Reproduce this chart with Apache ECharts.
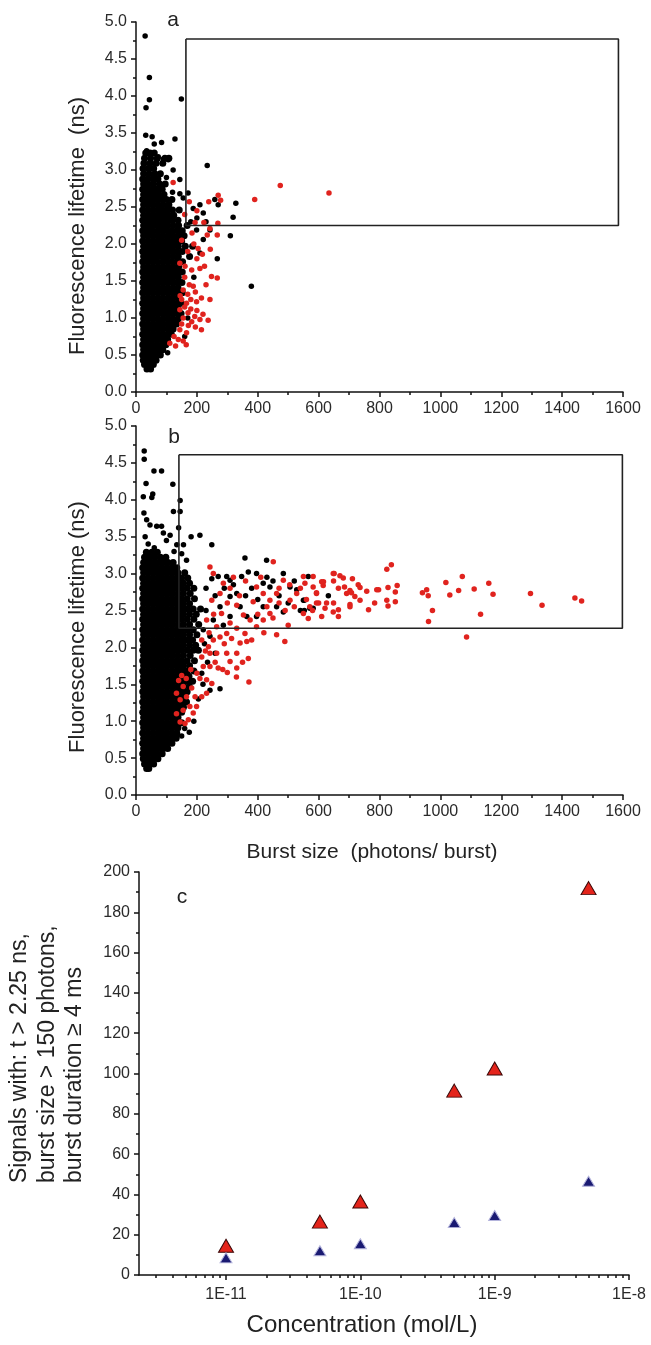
<!DOCTYPE html>
<html>
<head>
<meta charset="utf-8">
<script src="https://cdn.jsdelivr.net/npm/echarts@6/dist/echarts.min.js"></script>
<style>
html,body{margin:0;padding:0;background:#fff;}
#chart{width:651px;height:1345px;}
</style>
</head>
<body>
<div id="chart"></div>
<script>
// ---------------- DATA ----------------
// Panel a: dense black cloud, rows of [lifetime, burst sizes...]
const cloudA = [
[0.31,36,48],
[0.37,28,42,57],
[0.43,24,38,52,66],
[0.50,22,36,50,65,80],
[0.57,25,40,55,71,88],
[0.64,22,37,53,69,85,98],
[0.71,25,41,58,74,90,104],
[0.78,22,38,54,70,86,103,116],
[0.85,25,41,57,73,89,106,122],
[0.92,22,38,54,70,86,103,119,133],
[0.99,25,41,57,73,90,106,122,139],
[1.06,22,38,54,70,87,103,119,136,148],
[1.13,25,41,57,74,90,106,122,138],
[1.20,22,38,54,70,86,102,119,135,149],
[1.27,25,41,57,73,89,106,122,139],
[1.34,22,38,54,71,87,103,119,135,152],
[1.41,25,41,57,73,89,105,122,138],
[1.48,22,38,54,70,86,103,119,135,151],
[1.55,25,41,57,73,90,106,122,139],
[1.62,22,38,54,70,86,102,118,135,152],
[1.69,25,41,57,74,90,106,123,140],
[1.76,22,38,54,70,87,103,119,136,153],
[1.83,25,41,57,73,89,105,122,139,176],
[1.90,22,38,54,70,86,103,119,135,152],
[1.97,25,41,57,73,90,106,122,139,162,186],
[2.04,22,38,54,70,86,102,119,135,150],
[2.11,25,41,57,73,89,106,122,139,158],
[2.18,22,38,54,71,87,103,119,136,152],
[2.25,25,41,57,73,89,105,122,140,168],
[2.32,22,38,54,70,86,103,119,138],
[2.39,25,41,57,73,90,106,124],
[2.46,22,38,54,70,86,102,120,142],
[2.53,25,41,57,73,89,108],
[2.60,22,38,54,70,87,100,118],
[2.67,25,41,57,74,92],
[2.74,22,38,54,70,86],
[2.81,25,41,58,78,96],
[2.88,22,38,56,72],
[2.95,25,43,62,80],
[3.02,23,40,58],
[3.09,26,46,66,88],
[3.16,28,48,70,95,108],
[3.23,32,46,60]
];
const blackA = [[30,4.81],[44,4.25],[44,3.95],[33,3.84],[149,3.96],[32,3.47],[53,3.45],[84,3.37],[128,3.42],[35,3.26],[46,3.23],[73,3.18],[90,3.15],[106,3.14],[234,3.06],[144,2.87],[122,3.00],[171,2.69],[155,2.62],[144,2.68],[188,2.48],[221,2.42],[210,2.53],[259,2.60],[270,2.53],[328,2.55],[319,2.36],[310,2.11],[379,1.43],[243,2.19],[267,1.80],[199,2.19],[221,2.06],[210,1.88],[200,2.35],[180,2.30],[230,2.30],[190,1.55],[170,1.00],[160,0.75],[104,0.53],[120,2.70],[100,2.90],[60,3.35]];
const redA = [[122,2.83],[270,2.66],[278,2.59],[239,2.57],[175,2.57],[194,2.29],[223,2.29],[269,2.28],[243,2.21],[234,2.12],[184,2.15],[267,2.12],[204,1.94],[244,1.93],[218,1.86],[144,1.74],[161,1.70],[183,1.65],[210,1.67],[248,1.56],[267,1.54],[155,1.38],[188,1.43],[150,1.25],[166,1.20],[199,1.22],[215,1.27],[243,1.25],[144,1.11],[171,1.07],[193,1.02],[210,0.98],[237,0.97],[155,1.00],[183,0.95],[144,0.84],[166,0.80],[139,0.71],[155,0.69],[111,0.66],[215,0.84],[390,2.60],[474,2.79],[634,2.69],[160,1.55],[175,1.45],[145,1.30],[170,1.32],[195,1.35],[160,1.15],[180,1.12],[200,1.10],[150,0.92],[172,0.90],[195,0.88],[125,0.75],[200,1.80],[190,2.00],[170,1.90],[225,1.70],[160,2.40],[200,2.45],[150,2.05],[230,1.45],[180,1.25],[130,0.62],[220,1.05],[165,0.64]];
const gateA = [164, 1585, 2.25, 4.77]; // xMin, xMax, yMin, yMax

// Panel b
const cloudB = [
[0.36,35,42],
[0.42,28,44,58],
[0.49,24,40,56,72],
[0.56,22,38,54,70,86],
[0.63,25,41,57,73,89,104],
[0.70,22,38,54,70,86,102,118],
[0.77,25,41,57,73,89,105,121,132],
[0.84,22,38,54,70,86,102,118,134],
[0.91,25,41,57,73,89,105,121,138],
[0.98,22,38,54,70,86,102,118,134,150],
[1.05,25,41,57,73,89,105,121,138],
[1.12,22,38,54,70,86,102,118,134,150],
[1.19,25,41,57,73,89,105,121,138,156],
[1.26,22,38,54,70,86,102,118,134,150,166],
[1.33,25,41,57,73,89,105,121,138,156],
[1.40,22,38,54,70,86,102,118,134,150,168],
[1.47,25,41,57,73,89,105,121,138,156,175],
[1.54,22,38,54,70,86,102,118,134,150,168,186],
[1.61,25,41,57,73,89,105,121,138,156,174],
[1.68,22,38,54,70,86,102,118,134,150,168,190],
[1.75,25,41,57,73,89,105,121,138,156,176],
[1.82,22,38,54,70,86,102,118,134,150,168,192],
[1.89,25,41,57,73,89,105,121,138,156,178],
[1.96,22,38,54,70,86,102,118,134,150,168,188,205],
[2.03,25,41,57,73,89,105,121,138,156,176,196],
[2.10,22,38,54,70,86,102,118,134,150,168,186],
[2.17,25,41,57,73,89,105,121,138,156,176,200],
[2.24,22,38,54,70,86,102,118,134,150,168,188],
[2.31,25,41,57,73,89,105,121,138,156,176,206],
[2.38,22,38,54,70,86,102,118,134,150,168,190],
[2.45,25,41,57,73,89,105,121,138,156,176,198],
[2.52,22,38,54,70,86,102,118,134,150,168,188,212],
[2.59,25,41,57,73,89,105,121,138,156,176],
[2.66,22,38,54,70,86,102,118,134,150,168,192],
[2.73,25,41,57,73,89,105,121,138,156,178],
[2.80,22,38,54,70,86,102,118,134,150,168,190],
[2.87,25,41,57,73,89,105,121,138,156,176],
[2.94,22,38,54,70,86,102,118,134,150,170],
[3.01,25,41,57,73,89,105,121,138,160],
[3.08,22,38,54,70,86,102,118,134],
[3.15,25,41,57,73,89,105,122],
[3.22,28,44,62,80,98],
[3.29,34,52,70]
];
const blackB = [[27,4.66],[27,4.55],[59,4.39],[84,4.39],[33,4.22],[121,4.21],[24,4.04],[52,4.03],[55,4.08],[123,3.84],[145,3.84],[26,3.82],[35,3.73],[46,3.66],[68,3.64],[84,3.64],[30,3.50],[90,3.55],[112,3.52],[134,3.39],[156,3.39],[181,3.50],[210,3.52],[249,3.39],[150,3.27],[166,3.18],[358,3.21],[429,3.18],[145,3.99],[140,3.62],[40,3.40],[60,3.35],[100,3.45],[125,3.30],
[249,2.93],[270,2.96],[298,2.96],[309,2.91],[347,2.96],[369,3.02],[396,3.00],[418,2.87],[440,2.82],[484,3.00],[506,2.82],[528,2.78],[550,2.64],[571,2.53],[462,2.55],[484,2.48],[309,2.69],[331,2.73],[342,2.55],[276,2.55],[254,2.37],[309,2.42],[221,2.24],[243,2.15],[260,1.92],[216,1.65],[243,1.42],[276,1.44],[418,2.55],[396,2.42],[364,2.42],[566,2.96],[632,2.70],[582,2.53],[553,2.64],[553,2.50],[230,2.80],[260,2.70],[290,2.80],[320,2.85],[360,2.70],[380,2.80],[400,2.65],[450,2.90],[470,2.70],[520,2.90],[540,2.50],[500,2.60],[430,2.95],[287,2.30],[230,2.50],[225,2.05],[235,1.80],[220,1.50],[205,1.30],[190,1.00],[175,0.85],[160,0.90],[150,0.80]];
const redB = [[133,1.10],[145,0.99],[161,0.97],[172,1.02],[155,1.15],[177,1.20],[145,1.29],[166,1.33],[133,1.38],[155,1.47],[183,1.45],[194,1.33],[199,1.20],[188,1.11],[216,1.33],[232,1.38],[140,1.55],[150,1.62],[165,1.58],[180,1.70],[200,1.65],
[232,1.56],[210,1.58],[249,1.51],[270,1.72],[243,1.74],[221,1.74],[216,1.87],[243,1.92],[265,1.92],[238,2.01],[216,2.10],[254,2.10],[276,2.14],[298,1.92],[309,1.81],[331,1.72],[331,1.92],[369,1.85],[371,1.53],[364,2.08],[342,2.06],[314,2.12],[285,1.70],[300,1.66],[260,1.80],[228,1.95],[290,2.05],[350,1.80],[330,1.60],
[232,2.37],[265,2.28],[298,2.19],[309,2.33],[331,2.26],[281,2.46],[249,2.64],[276,2.73],[254,3.00],[243,3.09],[287,2.87],[309,2.80],[331,2.57],[353,2.44],[375,2.37],[358,2.19],[396,2.28],[418,2.37],[440,2.46],[462,2.17],[489,2.08],[440,2.64],[462,2.73],[484,2.91],[451,3.16],[396,2.82],[418,2.73],[385,2.62],[506,2.64],[528,2.73],[550,2.96],[571,2.55],[593,2.73],[615,2.84],[626,2.60],[610,2.42],[240,2.20],[255,2.45],[300,2.60],[320,2.95],[340,2.70],[360,2.90],[410,2.95],[430,2.55],[450,2.40],[470,2.60],[490,2.50],[500,2.30],[520,2.55],[540,2.80],[560,2.65],[580,2.50],[600,2.60],[505,2.85],[470,2.80],[420,2.20],[380,2.10],[400,2.45],
[651,3.00],[670,2.97],[711,2.93],[730,2.85],[736,2.81],[703,2.77],[708,2.74],[685,2.82],[665,2.80],[649,2.90],[616,2.89],[593,2.74],[582,2.82],[555,2.87],[719,2.69],[703,2.58],[665,2.51],[665,2.42],[649,2.60],[764,2.51],[784,2.60],[797,2.78],[824,3.06],[839,3.12],[828,2.81],[852,2.75],[858,2.84],[824,2.64],[852,2.62],[828,2.56],[941,2.74],[955,2.78],[960,2.70],[974,2.50],[961,2.35],[1018,2.88],[1031,2.71],[1060,2.77],[1072,2.96],[1086,2.14],[1111,2.79],[1132,2.45],[1159,2.87],[1173,2.72],[1296,2.73],[1334,2.57],[1442,2.67],[1464,2.63],
[582,2.96],[610,2.89],[648,3.00],[681,2.94],[758,2.76],[791,2.78],[550,2.46],[566,2.39],[593,2.60],[621,2.53],[692,2.73],[736,2.64],[703,2.55],[648,2.48]];
const gateB = [141, 1598, 2.26, 4.61];

// Panel c
const concentration = [1e-11, 5e-11, 1e-10, 5e-10, 1e-9, 5e-9];
const signalsRed = [14.5, 26.5, 36.5, 91.5, 102.5, 192];
const signalsBlue = [8.5, 12, 15.5, 26, 29.5, 46.5];
const concMajorTicks = [1e-11, 1e-10, 1e-9, 1e-8];
const concTickLabels = ['1E-11', '1E-10', '1E-9', '1E-8'];
const concMinorTicks = [3e-12,4e-12,5e-12,6e-12,7e-12,8e-12,9e-12,
  2e-11,3e-11,4e-11,5e-11,6e-11,7e-11,8e-11,9e-11,
  2e-10,3e-10,4e-10,5e-10,6e-10,7e-10,8e-10,9e-10,
  2e-9,3e-9,4e-9,5e-9,6e-9,7e-9,8e-9,9e-9];

// ---------------- BUILD ----------------
function expandCloud(rows){ const out=[]; rows.forEach(r=>{ for(let i=1;i<r.length;i++) out.push([r[i], r[0]]); }); return out; }
function gateLine(g){ return [[g[0],g[3]],[g[1],g[3]],[g[1],g[2]],[g[0],g[2]],[g[0],g[3]]]; }

const FONT = 'Liberation Sans, Arial, sans-serif';
const AX = '#111';
const TXT = '#2a2a2a';

function burstX(gi){
  return {gridIndex:gi, type:'value', min:0, max:1600, interval:200,
    axisLine:{onZero:false, lineStyle:{color:AX, width:1.5}},
    axisTick:{length:5, lineStyle:{color:AX, width:1.5}},
    minorTick:{show:true, splitNumber:2, length:3, lineStyle:{color:AX, width:1.5}},
    splitLine:{show:false},
    axisLabel:{color:TXT, fontSize:16, margin:9, fontFamily:FONT, formatter:v=>String(v)}};
}
function lifeY(gi){
  return {gridIndex:gi, type:'value', min:0, max:5, interval:0.5,
    axisLine:{onZero:false, lineStyle:{color:AX, width:1.5}},
    axisTick:{length:5, lineStyle:{color:AX, width:1.5}},
    minorTick:{show:true, splitNumber:2, length:3, lineStyle:{color:AX, width:1.5}},
    splitLine:{show:false},
    axisLabel:{color:TXT, fontSize:16, margin:9, fontFamily:FONT, formatter:v=>v.toFixed(1)}};
}
const dot = 5.5;
const cloudDot = 7;
const RED = '#e0231e';
const black = {color:'#000', opacity:1};
const red = {color:RED, opacity:1};

const option = {
  animation:false,
  backgroundColor:'#fff',
  grid:[
    {left:136, width:487, top:22, height:370},
    {left:136, width:487, top:426, height:369},
    {left:139, width:490, top:872, height:403}
  ],
  xAxis:[
    burstX(0), burstX(1),
    {gridIndex:2, type:'log', min:2.25e-12, max:1e-8, position:'bottom',
      axisLine:{onZero:false, lineStyle:{color:AX, width:1.5}},
      axisTick:{length:5, customValues:concMajorTicks, lineStyle:{color:AX, width:1.5}},
      splitLine:{show:false}, minorTick:{show:false},
      axisLabel:{color:TXT, fontSize:16, margin:12, fontFamily:FONT, customValues:concMajorTicks,
        formatter:v=>{ const i = concMajorTicks.findIndex(t=>Math.abs(Math.log10(t)-Math.log10(v))<1e-6); return i>=0?concTickLabels[i]:''; }}},
    {gridIndex:2, type:'log', min:2.25e-12, max:1e-8, position:'bottom',
      axisLine:{show:false, onZero:false},
      axisTick:{length:3, customValues:concMinorTicks, lineStyle:{color:AX, width:1.5}},
      axisLabel:{show:false}, splitLine:{show:false}}
  ],
  yAxis:[
    lifeY(0), lifeY(1),
    {gridIndex:2, type:'value', min:0, max:200, interval:20,
      axisLine:{onZero:false, lineStyle:{color:AX, width:1.5}},
      axisTick:{length:5, lineStyle:{color:AX, width:1.5}},
      minorTick:{show:true, splitNumber:2, length:3, lineStyle:{color:AX, width:1.5}},
      splitLine:{show:false},
      axisLabel:{color:TXT, fontSize:16, margin:9, fontFamily:FONT}}
  ],
  series:[
    {type:'scatter', xAxisIndex:0, yAxisIndex:0, data:expandCloud(cloudA), symbolSize:cloudDot, itemStyle:black},
    {type:'scatter', xAxisIndex:0, yAxisIndex:0, data:blackA, symbolSize:dot, itemStyle:black},
    {type:'scatter', xAxisIndex:0, yAxisIndex:0, data:redA, symbolSize:dot, itemStyle:red},
    {type:'line', xAxisIndex:0, yAxisIndex:0, data:gateLine(gateA), symbol:'none', lineStyle:{color:'#222', width:1.6}},
    {type:'scatter', xAxisIndex:1, yAxisIndex:1, data:expandCloud(cloudB), symbolSize:cloudDot, itemStyle:black},
    {type:'scatter', xAxisIndex:1, yAxisIndex:1, data:blackB, symbolSize:dot, itemStyle:black},
    {type:'scatter', xAxisIndex:1, yAxisIndex:1, data:redB, symbolSize:dot, itemStyle:red},
    {type:'line', xAxisIndex:1, yAxisIndex:1, data:gateLine(gateB), symbol:'none', lineStyle:{color:'#222', width:1.6}},
    {type:'scatter', xAxisIndex:2, yAxisIndex:2, data:concentration.map((c,i)=>[c, signalsRed[i]]), symbol:'triangle', symbolSize:[15,13],
      itemStyle:{color:'#e4241b', borderColor:'#3a0808', borderWidth:1, opacity:1}},
    {type:'scatter', xAxisIndex:2, yAxisIndex:2, data:concentration.map((c,i)=>[c, signalsBlue[i]]), symbol:'triangle', symbolSize:[12,10],
      itemStyle:{color:'#1a1a72', borderColor:'#b4b4dc', borderWidth:1, opacity:1}}
  ],
  graphic:[
    {type:'text', x:173, y:20, style:{text:'a', font:'21px '+FONT, fill:'#222', textAlign:'center', textVerticalAlign:'middle'}},
    {type:'text', x:174, y:437, style:{text:'b', font:'21px '+FONT, fill:'#222', textAlign:'center', textVerticalAlign:'middle'}},
    {type:'text', x:182, y:897, style:{text:'c', font:'21px '+FONT, fill:'#222', textAlign:'center', textVerticalAlign:'middle'}},
    {type:'text', x:78, y:226, rotation:Math.PI/2, style:{text:'Fluorescence lifetime  (ns)', font:'22px '+FONT, fill:'#222', textAlign:'center', textVerticalAlign:'middle'}},
    {type:'text', x:78, y:627, rotation:Math.PI/2, style:{text:'Fluorescence lifetime (ns)', font:'22px '+FONT, fill:'#222', textAlign:'center', textVerticalAlign:'middle'}},
    {type:'text', x:372, y:852, style:{text:'Burst size  (photons/ burst)', font:'21px '+FONT, fill:'#222', textAlign:'center', textVerticalAlign:'middle'}},
    {type:'text', x:362, y:1325, style:{text:'Concentration (mol/L)', font:'24px '+FONT, fill:'#222', textAlign:'center', textVerticalAlign:'middle'}},
    {type:'text', x:20, y:1183, rotation:Math.PI/2, style:{text:'Signals with: t > 2.25 ns,', font:'23px '+FONT, fill:'#222', textAlign:'left', textVerticalAlign:'middle'}},
    {type:'text', x:48, y:1183, rotation:Math.PI/2, style:{text:'burst size > 150 photons,', font:'23px '+FONT, fill:'#222', textAlign:'left', textVerticalAlign:'middle'}},
    {type:'text', x:75, y:1183, rotation:Math.PI/2, style:{text:'burst duration \u2265 4 ms', font:'23px '+FONT, fill:'#222', textAlign:'left', textVerticalAlign:'middle'}}
  ]
};
const chart = echarts.init(document.getElementById('chart'), null, {renderer:'canvas'});
chart.setOption(option);
</script>
</body>
</html>
